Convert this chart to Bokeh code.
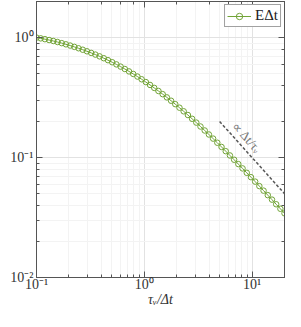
from bokeh.plotting import figure
from bokeh.models import (LogAxis, LogTicker, CustomJSTickFormatter, Legend,
                          LegendItem, Range1d, Label)
from bokeh.embed import file_html
from bokeh.resources import INLINE

# ---- data ----
tau = [0.1, 0.1094, 0.1197, 0.1310, 0.1433, 0.1567, 0.1715, 0.1876, 0.2052, 0.2245,
       0.2456, 0.2687, 0.2939, 0.3216, 0.3518, 0.3848, 0.4210, 0.4606, 0.5039, 0.5513,
       0.6031, 0.6598, 0.7218, 0.7896, 0.8638, 0.9450, 1.0338, 1.1310, 1.2373, 1.3536,
       1.4809, 1.6200, 1.7723, 1.9389, 2.1211, 2.3205, 2.5386, 2.7772, 3.0382, 3.3238,
       3.6362, 3.9780, 4.3519, 4.7609, 5.2084, 5.6980, 6.2335, 6.8194, 7.4604, 8.1616,
       8.9287, 9.7679, 10.686, 11.690, 12.789, 13.991, 15.306, 16.745, 18.319, 20.0]
energy = [1.000, 0.9858, 0.9707, 0.9543, 0.9369, 0.9186, 0.8995, 0.8792, 0.8584, 0.8369,
          0.8149, 0.7921, 0.7691, 0.7456, 0.7219, 0.6977, 0.6732, 0.6484, 0.6234, 0.5981,
          0.5729, 0.5475, 0.5226, 0.4978, 0.4735, 0.4495, 0.4259, 0.4030, 0.3807, 0.3589,
          0.3378, 0.3174, 0.2977, 0.2787, 0.2604, 0.2430, 0.2263, 0.2105, 0.1956, 0.1815,
          0.1681, 0.1557, 0.1439, 0.1329, 0.1226, 0.1130, 0.1041, 0.0959, 0.0882, 0.0812,
          0.0746, 0.0686, 0.0630, 0.0578, 0.0530, 0.0486, 0.0446, 0.0408, 0.0374, 0.0343]
guide_tau = [5.0, 20.0]
guide_val = [0.2, 0.05]
guide_text = "\u221d \u0394t/\u03c4\u1d65"
legend_text = "E\u0394t"
x_label = "\u03c4\u1d65/\u0394t"

GREEN = "#72a437"
AXC = "#555555"
FONT = "Liberation Serif"

p = figure(width=285, height=311, x_axis_type="log", y_axis_type="log",
           x_range=Range1d(0.1, 20), y_range=Range1d(0.01, 2.0),
           output_backend="svg", toolbar_location=None,
           min_border_left=36, min_border_right=1, min_border_top=1,
           min_border_bottom=34)
p.background_fill_color = "white"
p.border_fill_color = "white"
p.outline_line_color = AXC

sup = CustomJSTickFormatter(code="""
const m = {"-":"\u207b","0":"\u2070","1":"\u00b9","2":"\u00b2","3":"\u00b3",
           "4":"\u2074","5":"\u2075","6":"\u2076","7":"\u2077","8":"\u2078","9":"\u2079"};
const e = Math.round(Math.log10(tick));
return "10" + String(e).split("").map(c => m[c]).join("");
""")
blank = CustomJSTickFormatter(code="return ' ';")

for ax in (p.xaxis[0], p.yaxis[0]):
    ax.formatter = sup
    ax.major_label_text_font = FONT
    ax.major_label_text_font_size = "14px"
    ax.major_label_text_color = "#333333"
    ax.axis_line_color = AXC
    ax.major_tick_line_color = AXC
    ax.minor_tick_line_color = AXC
    ax.major_tick_in = 6
    ax.major_tick_out = 0
    ax.minor_tick_in = 3
    ax.minor_tick_out = 0
    ax.major_label_standoff = 3

p.xaxis.axis_label = x_label
p.xaxis.axis_label_text_font = FONT
p.xaxis.axis_label_text_font_style = "italic"
p.xaxis.axis_label_text_font_size = "14px"
p.xaxis.axis_label_text_color = "#333333"
p.xaxis.axis_label_standoff = -3
p.xaxis.major_label_standoff = -1

for loc in ("above", "right"):
    ax = LogAxis(ticker=LogTicker(), formatter=blank)
    ax.major_label_text_font_size = "1px"
    ax.major_label_text_color = None
    ax.major_label_standoff = 0
    ax.axis_line_color = AXC
    ax.major_tick_line_color = AXC
    ax.minor_tick_line_color = AXC
    ax.major_tick_in = 6
    ax.major_tick_out = 0
    ax.minor_tick_in = 3
    ax.minor_tick_out = 0
    p.add_layout(ax, loc)

p.grid.grid_line_color = "#e2e2e2"
p.grid.minor_grid_line_color = "#f3f3f3"

p.line(guide_tau, guide_val, line_color="#555555", line_width=1.5, line_dash="3 2")
p.add_layout(Label(x=9.0, y=0.147, text=guide_text, angle=-0.84,
                   text_align="center", text_baseline="middle",
                   text_color="#777777", text_font=FONT, text_font_size="13px"))

lr = p.line(tau, energy, line_color=GREEN, line_width=1)
sr = p.scatter(tau, energy, marker="circle", size=5.5, line_color=GREEN,
               fill_alpha=0, line_width=1)

legend = Legend(items=[LegendItem(label=legend_text, renderers=[lr, sr])],
                location="top_right", margin=3, padding=2, spacing=0,
                glyph_width=24, glyph_height=16, label_standoff=4,
                border_line_color="#444444", border_line_width=1,
                background_fill_color="white", background_fill_alpha=1,
                label_text_font=FONT, label_text_font_size="15px",
                label_text_color="#222222", label_height=16)
p.add_layout(legend)

open("out.html", "w").write(file_html(p, INLINE))
